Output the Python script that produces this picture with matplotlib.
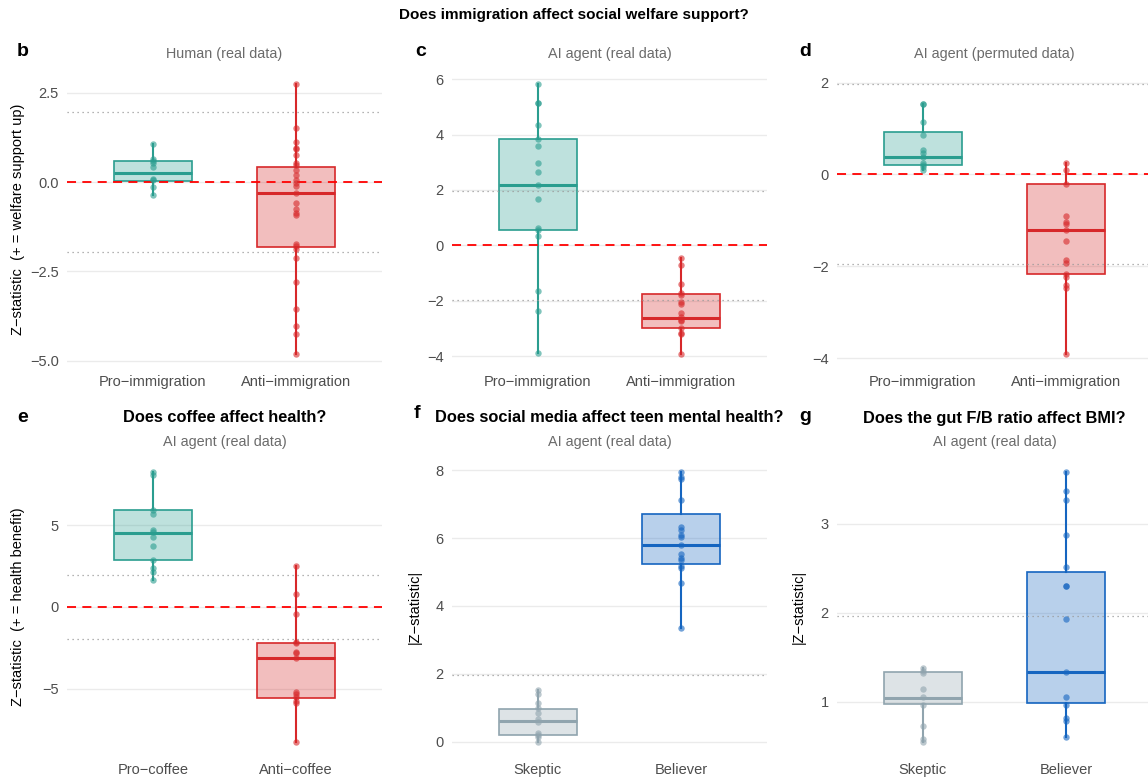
import numpy as np
import matplotlib.pyplot as plt
from matplotlib.colors import to_rgb

plt.rcParams['font.family'] = ['Liberation Sans', 'DejaVu Sans']

W, H = 1148, 782
TEAL = '#2A9D8F'
RED = '#D7282A'
BLUE = '#1565C0'
GREY = '#90A4AE'

# ---- immigration / welfare: human analysts, real data (b)
b_groups = ['Pro\u2212immigration', 'Anti\u2212immigration']
b_pro = [1.07, 0.65, 0.60, 0.53, 0.42, 0.09, 0.05, -0.14, -0.37]
b_anti = [2.73, 1.51, 1.12, 0.96, 0.91, 0.75, 0.53, 0.49, 0.33, 0.19, 0.07,
          -0.03, -0.12, -0.31, -0.58, -0.75, -0.87, -0.91, -1.73, -1.80,
          -1.87, -2.13, -2.80, -3.54, -4.04, -4.24, -4.80]
b_q1 = [0.02, -1.83]
b_med = [0.25, -0.31]
b_q3 = [0.60, 0.43]

# ---- AI agents, real data (c)
c_pro = [5.81, 5.15, 5.15, 4.36, 3.83, 3.57, 2.98, 2.65, 2.19, 1.67, 0.64,
         0.57, 0.35, -1.64, -2.36, -3.89]
c_anti = [-0.46, -0.70, -1.41, -1.71, -1.78, -2.05, -2.13, -2.44, -2.59,
          -2.71, -2.75, -2.98, -3.16, -3.22, -3.91]
c_q1 = [0.57, -2.98]
c_med = [2.19, -2.62]
c_q3 = [3.83, -1.77]

# ---- AI agents, permuted data (d)
d_pro = [1.53, 1.53, 1.14, 0.86, 0.54, 0.47, 0.38, 0.26, 0.21, 0.16, 0.10]
d_anti = [0.25, 0.10, -0.20, -0.90, -1.03, -1.08, -1.21, -1.44, -1.86,
          -1.92, -2.17, -2.23, -2.41, -2.47, -3.90]
d_q1 = [0.20, -2.17]
d_med = [0.39, -1.21]
d_q3 = [0.925, -0.20]

# ---- coffee and health (e)
e_groups = ['Pro\u2212coffee', 'Anti\u2212coffee']
e_pro = [8.21, 8.05, 5.93, 5.67, 4.69, 4.59, 4.25, 3.72, 2.89, 2.36, 2.15,
         1.65]
e_anti = [2.50, 0.77, -0.43, -2.11, -2.22, -2.72, -2.83, -3.13, -5.16,
          -5.33, -5.47, -5.73, -5.87, -8.21]
e_q1 = [2.85, -5.55]
e_med = [4.51, -3.13]
e_q3 = [5.93, -2.17]

# ---- social media and teen mental health (f)
fg_groups = ['Skeptic', 'Believer']
f_skep = [1.54, 1.40, 1.15, 1.01, 0.86, 0.66, 0.59, 0.27, 0.21, 0.15, 0.01]
f_bel = [7.93, 7.80, 7.73, 7.12, 6.32, 6.24, 6.09, 6.04, 5.80, 5.52, 5.41,
         5.34, 5.19, 5.13, 4.67, 3.35]
f_q1 = [0.21, 5.24]
f_med = [0.61, 5.80]
f_q3 = [0.98, 6.72]

# ---- gut F/B ratio and BMI (g)
g_skep = [1.38, 1.34, 1.32, 1.14, 1.05, 0.96, 0.72, 0.58, 0.55]
g_bel = [3.58, 3.37, 3.27, 2.88, 2.52, 2.30, 2.30, 1.93, 1.33, 1.05, 0.96,
         0.82, 0.78, 0.60]
g_q1 = [0.97, 0.98]
g_med = [1.045, 1.33]
g_q3 = [1.33, 2.46]

fig = plt.figure(figsize=(W / 100, H / 100), dpi=100)


def fxy(x, y):
    return x / W, 1 - y / H


def panel(x0, y0, x1, y1, groups, points, q1, med, q3, colors, yticks,
          fmt, ylabel=None, signed=True):
    ax = fig.add_axes([x0 / W, 1 - y1 / H, (x1 - x0) / W, (y1 - y0) / H])
    hl = [1.96, 0, -1.96] if signed else [1.96]
    stats = []
    for i in range(2):
        stats.append(dict(med=med[i], q1=q1[i], q3=q3[i],
                          whislo=min(points[i]), whishi=max(points[i]),
                          fliers=[]))
    bp = ax.bxp(stats, positions=[1, 2], widths=0.55, showcaps=False,
                showfliers=False, patch_artist=True, zorder=2)
    for i, c in enumerate(colors):
        bp['boxes'][i].set(facecolor=(*to_rgb(c), 0.3), edgecolor=c,
                           linewidth=1.2)
        bp['medians'][i].set(color=c, linewidth=2.2, solid_capstyle='butt')
        for w in bp['whiskers'][2 * i:2 * i + 2]:
            w.set(color=c, linewidth=1.5)
        ax.plot(np.full(len(points[i]), i + 1), points[i], 'o', color=c,
                alpha=0.6, markersize=4.6, markeredgewidth=0, zorder=5)
    for h in hl:
        if h == 0:
            ax.axhline(0, color='#FF0000', linestyle=(0, (5, 3.5)),
                       linewidth=1.3, zorder=4)
        else:
            ax.axhline(h, color='#9A9A9A', linestyle=(0, (1, 3)),
                       linewidth=0.9, zorder=3)
    allv = list(points[0]) + list(points[1]) + hl
    lo, hi = min(allv), max(allv)
    pad = 0.05 * (hi - lo)
    ax.set_ylim(lo - pad, hi + pad)
    ax.set_xlim(0.4, 2.6)
    ax.set_yticks(yticks)
    ax.set_yticklabels([fmt.format(t).replace('-', '\u2212') for t in yticks])
    ax.set_xticks([1, 2])
    ax.set_xticklabels(groups)
    ax.tick_params(length=0, labelsize=10.5, labelcolor='#4D4D4D', pad=6)
    ax.tick_params(axis='x', pad=6)
    ax.grid(axis='y', color='#EBEBEB', linewidth=1.0, zorder=0)
    ax.set_axisbelow(True)
    for s in ax.spines.values():
        s.set_visible(False)
    if ylabel:
        ax.set_ylabel(ylabel, fontsize=10.5, color='black')
    return ax


cols = [(67, 382), (452, 767), (837, 1152)]
top = (71, 367)
bot = (459, 755)
pair = [TEAL, RED]
pair2 = [GREY, BLUE]

ax_b = panel(cols[0][0], top[0], cols[0][1], top[1], b_groups,
             [b_pro, b_anti], b_q1, b_med, b_q3, pair, [-5, -2.5, 0, 2.5],
             '{:.1f}', 'Z\u2212statistic  (+ = welfare support up)')
ax_c = panel(cols[1][0], top[0], cols[1][1], top[1], b_groups,
             [c_pro, c_anti], c_q1, c_med, c_q3, pair, [-4, -2, 0, 2, 4, 6],
             '{:d}')
ax_d = panel(cols[2][0], top[0], cols[2][1], top[1], b_groups,
             [d_pro, d_anti], d_q1, d_med, d_q3, pair, [-4, -2, 0, 2],
             '{:d}')
ax_e = panel(cols[0][0], bot[0], cols[0][1], bot[1], e_groups,
             [e_pro, e_anti], e_q1, e_med, e_q3, pair, [-5, 0, 5],
             '{:d}', 'Z\u2212statistic  (+ = health benefit)')
ax_f = panel(cols[1][0], bot[0], cols[1][1], bot[1], fg_groups,
             [f_skep, f_bel], f_q1, f_med, f_q3, pair2, [0, 2, 4, 6, 8],
             '{:d}', '|Z\u2212statistic|', signed=False)
ax_g = panel(cols[2][0], bot[0], cols[2][1], bot[1], fg_groups,
             [g_skep, g_bel], g_q1, g_med, g_q3, pair2, [1, 2, 3],
             '{:d}', '|Z\u2212statistic|', signed=False)

# y labels sit at fixed distances left of each panel
for ax, xr, x0 in [(ax_b, 25, 67), (ax_e, 25, 67), (ax_f, 422, 452),
                   (ax_g, 806, 837)]:
    ax.yaxis.set_label_coords((xr - x0) / 315, 0.5)

fig.text(*fxy(574, 15), 'Does immigration affect social welfare support?',
         ha='center', va='center', fontsize=11, fontweight='bold')

subs = ['Human (real data)', 'AI agent (real data)', 'AI agent (permuted data)']
for (x0, x1), s in zip(cols, subs):
    fig.text(*fxy((x0 + x1) / 2, 54), s, ha='center', va='center',
             fontsize=10.4, color='#6B6B6B')

titles = ['Does coffee affect health?',
          'Does social media affect teen mental health?',
          'Does the gut F/B ratio affect BMI?']
for (x0, x1), t in zip(cols, titles):
    fig.text(*fxy((x0 + x1) / 2, 418), t, ha='center', va='center',
             fontsize=11.8, fontweight='bold')
    fig.text(*fxy((x0 + x1) / 2, 442), 'AI agent (real data)', ha='center',
             va='center', fontsize=10.4, color='#6B6B6B')

letters = [('b', 17, 52), ('c', 415, 52), ('d', 799, 52),
           ('e', 17, 417), ('f', 414, 414), ('g', 799, 416)]
for l, x, y in letters:
    fig.text(*fxy(x, y), l, ha='left', va='center', fontsize=14,
             fontweight='bold')

fig.savefig('out.png', dpi=100)
